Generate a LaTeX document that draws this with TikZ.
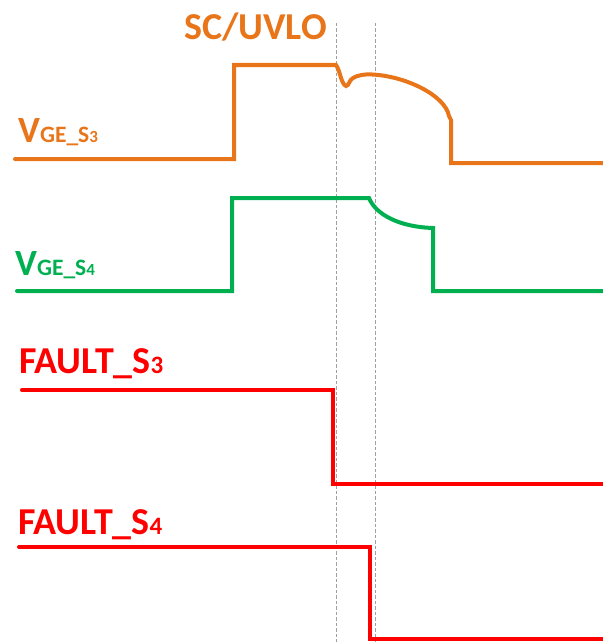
\documentclass[tikz,border=0pt]{standalone}
\usepackage{fontspec}
\setmainfont{Carlito}
\definecolor{sigorange}{HTML}{E87519}
\definecolor{siggreen}{HTML}{00B050}
\definecolor{sigred}{HTML}{FF0000}
\definecolor{guide}{HTML}{A0A0A0}
\newcommand{\fsz}[1]{\fontsize{#1}{#1}\selectfont}
\begin{document}
\begin{tikzpicture}[x=1pt,y=-1pt,
  wave/.style={line width=4pt,line cap=round,line join=miter},
  marker/.style={guide,line width=0.8pt,dash pattern=on 3.5pt off 2pt},
  lbl/.style={anchor=base west,inner sep=0pt,font=\bfseries}]
\useasboundingbox (0,0) rectangle (602,642);

% event markers
\draw[marker] (336,23) -- (336,642);
\draw[marker] (375,23) -- (375,642);

% labels
\node[lbl,text=sigorange] (sc) at (184,40) {\fsz{38}SC/UVLO};
\node[lbl,text=sigorange] (vs3) at (18,142) {\fsz{37}V\fsz{23.5}GE\_S\fsz{17}3};
\node[lbl,text=siggreen] (vs4) at (15,275) {\fsz{37}V\fsz{23.5}GE\_S\fsz{17}4};
\node[lbl,text=sigred] (f3) at (19,373) {\fsz{38}FAULT\_S\fsz{25}3};
\node[lbl,text=sigred] (f4) at (18,534) {\fsz{38}FAULT\_S\fsz{25}4};

% gate voltage of S3
\draw[wave,sigorange] (15,159) -- (234,159) -- (234,65) -- (336,65)
  .. controls (340,70) and (341,84) .. (346,86)
  .. controls (349,86) and (349,80) .. (353,78)
  .. controls (358,75) and (365,74) .. (372,74.5)
  .. controls (405,76) and (445,95) .. (449,116)
  -- (451,120) -- (451,163) -- (604,163);

% gate voltage of S4
\draw[wave,siggreen] (17,291) -- (232,291) -- (232,198) -- (369,198)
  .. controls (376,215) and (400,227) .. (433,228)
  -- (433,291) -- (604,291);

% fault signals
\draw[wave,sigred] (22,390) -- (333,390) -- (333,484) -- (604,484);
\draw[wave,sigred] (19,547) -- (370,547) -- (370,639) -- (604,639);
\end{tikzpicture}
\end{document}
